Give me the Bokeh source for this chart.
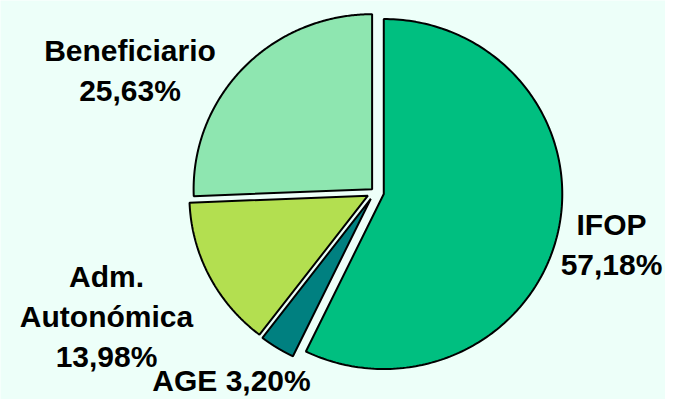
import numpy as np
from bokeh.plotting import figure
from bokeh.models import Range1d, ColumnDataSource
from bokeh.core.properties import value
from bokeh.embed import file_html
from bokeh.resources import INLINE

# ---- data ----
categories = ["IFOP", "AGE", "Adm. Autonómica", "Beneficiario"]
shares = [57.18, 3.20, 13.98, 25.63]
name_lines = [["IFOP"], ["AGE"], ["Adm.", "Autonómica"], ["Beneficiario"]]

# ---- styles / layout ----
colors = ["#00BF80", "#008080", "#B3DF50", "#8EE6B0"]
explode = [9, 8, 8, 4]
cx, cy = 374.5, 191.5
rx, ry = 178.5, 175.0
label_anchor = [(611.0, 243.5), (231.0, 380.0), (106.0, 316.0), (129.5, 69.5)]
same_line = [False, True, False, False]
line_gap = 40.0
bg = "#EDFFF9"

W, H = 665, 399
p = figure(width=W, height=H, output_backend="svg", toolbar_location=None,
           x_range=Range1d(0, W), y_range=Range1d(H, 0),
           x_axis_type=None, y_axis_type=None, min_border=0)
p.min_border_left = p.min_border_right = p.min_border_top = p.min_border_bottom = 0
p.grid.visible = False
p.outline_line_color = None
p.background_fill_color = bg
p.border_fill_color = bg

total = sum(shares)
fracs = np.cumsum([0.0] + [s / total for s in shares])
xs, ys = [], []
for i, s in enumerate(shares):
    a0, a1 = fracs[i] * 2 * np.pi, fracs[i + 1] * 2 * np.pi
    mid = (a0 + a1) / 2
    ox = cx + explode[i] * np.sin(mid)
    oy = cy - explode[i] * np.cos(mid)
    t = np.linspace(a0, a1, 200)
    px = np.concatenate([[ox], ox + rx * np.sin(t)])
    py = np.concatenate([[oy], oy - ry * np.cos(t)])
    xs.append(px.tolist())
    ys.append(py.tolist())

src = ColumnDataSource(dict(xs=xs, ys=ys, color=colors, name=categories))
p.patches("xs", "ys", source=src, fill_color="color", line_color="black", line_width=2)

tx, ty, tt = [], [], []
for i, s in enumerate(shares):
    pct = f"{s:.2f}".replace(".", ",") + "%"
    if same_line[i]:
        lines = [" ".join(name_lines[i]) + " " + pct]
    else:
        lines = name_lines[i] + [pct]
    n = len(lines)
    ax, ay = label_anchor[i]
    for k, ln in enumerate(lines):
        tx.append(ax)
        ty.append(ay + (k - (n - 1) / 2) * line_gap)
        tt.append(ln)

p.text(x=tx, y=ty, text=tt, text_font=value("Liberation Sans"), text_font_style="bold",
       text_font_size="30px", text_align="center", text_baseline="middle", text_color="black")

open("out.html", "w").write(file_html(p, INLINE))
